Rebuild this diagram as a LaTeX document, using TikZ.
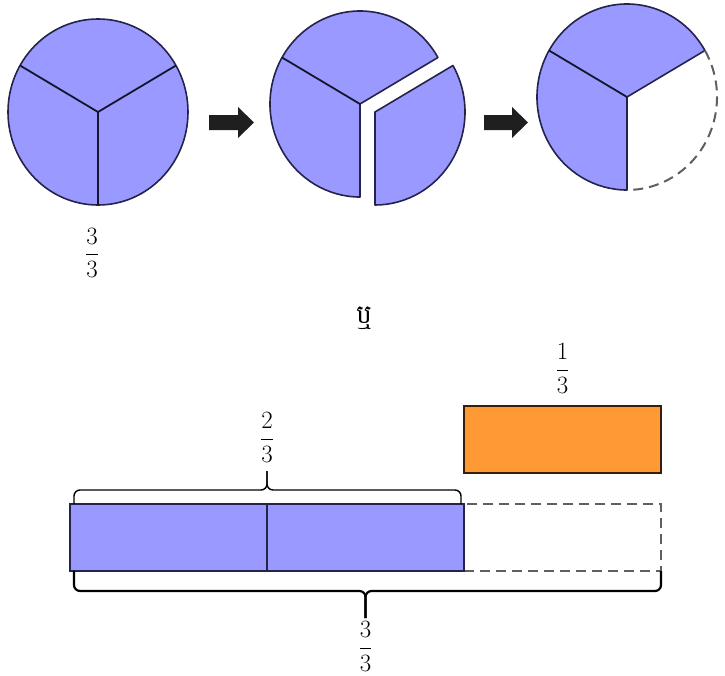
\documentclass[tikz,border=0pt]{standalone}
\usepackage{fontspec}
\usetikzlibrary{positioning, calc}
\newfontfamily\khmerfont[Script=Khmer]{Battambang}
\definecolor{piblue}{RGB}{153,153,255}
\definecolor{piline}{RGB}{35,35,75}
\definecolor{barorange}{RGB}{255,153,51}
\definecolor{orangeline}{RGB}{55,30,10}
\definecolor{dashgray}{RGB}{95,95,95}
\tikzstyle{pie}      = [fill=piblue, draw=piline, line width=1.6pt, line join=round]
\tikzstyle{spoke}    = [draw=piline!60!black, line width=1.8pt]
\tikzstyle{fatarrow} = [fill=black!88]

\begin{document}
\begin{tikzpicture}[x=1pt, y=1pt]
    \tikzstyle{cell}=[rectangle, draw=piline, fill=piblue, line width=1.8pt, minimum width=197pt,
                      minimum height=67pt, inner sep=0pt, outer sep=0pt]
    \tikzstyle{gapcell}=[cell, fill=none, draw=dashgray, line width=2pt, dash pattern=on 10pt off 6pt]
    \tikzstyle{frac}=[inner sep=0pt, font=\fontsize{25}{30}\selectfont]
    \tikzstyle{brc}=[draw=black, rounded corners=6pt, line width=1.4pt]
    \useasboundingbox (0,0) rectangle (725,-675);
    \coordinate (c1) at (98,-112);
    \coordinate (c2) at (360,-104);
    \coordinate (c2b) at (375,-112);
    \coordinate (c3) at (627,-97);
    \draw[pie] (c1) ellipse [x radius=90, y radius=93];
    \draw[spoke] (c1) -- ++(150:90 and 93) (c1) -- ++(30:90 and 93) (c1) -- ++(270:90 and 93);
    \draw[pie] (c2) -- ++(30:90 and 93) arc[start angle=30, end angle=270, x radius=90, y radius=93] -- cycle;
    \draw[spoke] (c2) -- ++(150:90 and 93);
    \draw[pie] (c2b) -- ++(30:90 and 93) arc[start angle=30, end angle=-90, x radius=90, y radius=93] -- cycle;
    \draw[pie] (c3) -- ++(30:90 and 93) arc[start angle=30, end angle=270, x radius=90, y radius=93] -- cycle;
    \draw[spoke] (c3) -- ++(150:90 and 93);
    \draw[dashgray, line width=2pt, dash pattern=on 10pt off 6pt] (c3) ++(30:90 and 93)
        arc[start angle=30, end angle=-90, x radius=90, y radius=93];
    \foreach \ax/\sh in {209/29, 484/28}
        \fill[fatarrow] (\ax,-115) -- ++(\sh,0) -- ++(0,8) -- ++(16,-15.5) -- ++(-16,-15.5) -- ++(0,8) -- ++(-\sh,0) -- cycle;
    \node (whole) [frac, font=\fontsize{28}{34}\selectfont] at (92,-253) {$\displaystyle\frac{3}{3}$};
    \node (or) at (364,-318) {\khmerfont\fontsize{26}{32}\selectfont ឬ};

    \node (p3) [gapcell] at (562.5,-537.5) {};
    \node (p1) [cell] at (168.5,-537.5) {};
    \node (p2) [cell, right=0pt of p1] {};
    \node (third) [cell, fill=barorange, draw=orangeline, line width=2.2pt, above=31pt of p3] {};
    \node (l13) [frac, above=12pt of third] {$\displaystyle\frac{1}{3}$};
    \coordinate (tb) at ([yshift=14pt]p1.north east);
    \draw[brc] ([xshift=4pt]p1.north west) |- (tb) -- ++(0,19) coordinate (tbtip);
    \draw[brc] ([xshift=-3pt]p2.north east) |- (tb) -- ++(0,19);
    \node (l23) [frac, above=8pt of tbtip] {$\displaystyle\frac{2}{3}$};
    \coordinate (bb) at ($(p1.south west)!.5!(p3.south east)+(0,-20)$);
    \draw[brc, line width=2.2pt] ([xshift=4pt]p1.south west) |- (bb) -- ++(0,-27) coordinate (bbtip);
    \draw[brc, line width=2.2pt] (p3.south east) |- (bb) -- ++(0,-27);
    \node (l33) [frac, below=3pt of bbtip] {$\displaystyle\frac{3}{3}$};
\end{tikzpicture}
\end{document}
